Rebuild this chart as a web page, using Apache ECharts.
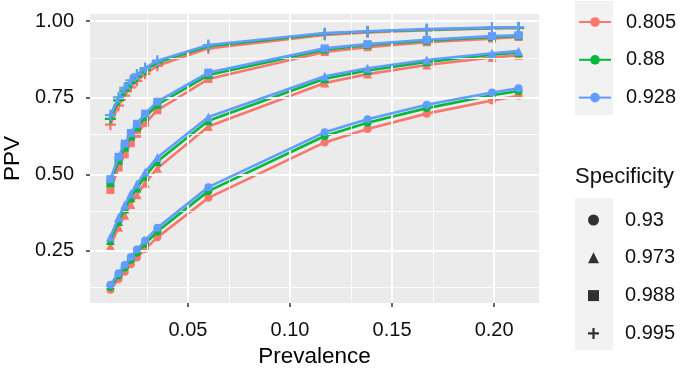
<!DOCTYPE html>
<html>
<head>
<meta charset="utf-8">
<title>PPV vs Prevalence</title>
<script src="https://cdn.jsdelivr.net/npm/echarts@6/dist/echarts.min.js"></script>
<style>
    html, body { margin: 0; padding: 0; background: #fff; }
    #main { width: 685px; height: 373px; }
</style>
</head>
<body>
<div id="main"></div>
<script>
// x values (prevalence)
var prevalence = [0.012, 0.016, 0.019, 0.022, 0.025, 0.029, 0.035, 0.06, 0.117, 0.138, 0.167, 0.199, 0.212];

// colour groups (sensitivity) and shape groups (specificity)
var sensitivity = ['0.805', '0.88', '0.928'];
var specificity = ['0.93', '0.973', '0.988', '0.995'];

// PPV, one array per sensitivity / specificity pair
var ppv_805_930 = [0.123, 0.158, 0.182, 0.206, 0.228, 0.256, 0.294, 0.423, 0.604, 0.648, 0.698, 0.741, 0.756];
var ppv_805_973 = [0.266, 0.327, 0.366, 0.401, 0.433, 0.471, 0.520, 0.656, 0.798, 0.827, 0.857, 0.881, 0.889];
var ppv_805_988 = [0.449, 0.522, 0.565, 0.601, 0.632, 0.667, 0.709, 0.811, 0.899, 0.915, 0.931, 0.943, 0.948];
var ppv_805_995 = [0.662, 0.724, 0.757, 0.784, 0.805, 0.828, 0.854, 0.911, 0.955, 0.963, 0.970, 0.976, 0.977];

var ppv_880_930 = [0.132, 0.170, 0.196, 0.221, 0.244, 0.273, 0.313, 0.445, 0.625, 0.668, 0.716, 0.758, 0.772];
var ppv_880_973 = [0.284, 0.346, 0.387, 0.423, 0.455, 0.493, 0.542, 0.675, 0.812, 0.839, 0.867, 0.890, 0.898];
var ppv_880_988 = [0.471, 0.544, 0.587, 0.623, 0.653, 0.687, 0.727, 0.824, 0.907, 0.922, 0.936, 0.948, 0.952];
var ppv_880_995 = [0.681, 0.741, 0.773, 0.798, 0.819, 0.840, 0.865, 0.918, 0.959, 0.966, 0.972, 0.978, 0.979];

var ppv_928_930 = [0.139, 0.177, 0.204, 0.230, 0.254, 0.284, 0.325, 0.458, 0.637, 0.680, 0.727, 0.767, 0.781];
var ppv_928_973 = [0.295, 0.359, 0.400, 0.436, 0.468, 0.507, 0.555, 0.687, 0.820, 0.846, 0.873, 0.895, 0.902];
var ppv_928_988 = [0.484, 0.557, 0.600, 0.635, 0.665, 0.698, 0.737, 0.832, 0.911, 0.925, 0.939, 0.951, 0.954];
var ppv_928_995 = [0.693, 0.751, 0.782, 0.807, 0.826, 0.847, 0.871, 0.922, 0.961, 0.967, 0.974, 0.979, 0.980];

// tick labels
var xTicks = [0.05, 0.10, 0.15, 0.20];
var yTicks = [0.25, 0.50, 0.75, 1.00];
var xMinor = [0.025, 0.075, 0.125, 0.175];
var yMinor = [0.125, 0.375, 0.625, 0.875];

var ppvTable = [
    [ppv_805_930, ppv_805_973, ppv_805_988, ppv_805_995],
    [ppv_880_930, ppv_880_973, ppv_880_988, ppv_880_995],
    [ppv_928_930, ppv_928_973, ppv_928_988, ppv_928_995]
];

var colors = ['#F8766D', '#00BA38', '#619CFF'];
var plusPath = 'path://M0,4H10V6H0Z M4,0H6V10H4Z';
var shapes = ['circle', 'triangle', 'rect', plusPath];
var shapeSizes = [8, 9, 8, 11];
var legendShapeSizes = [9, 10, 8, 12];
var FONT = 'Liberation Sans, Arial, Helvetica, sans-serif';

function zip(xs, ys) {
    var out = [];
    for (var i = 0; i < xs.length; i++) {
        out.push([xs[i], ys[i]]);
    }
    return out;
}

function gridLines(values, axis, width) {
    return values.map(function (v) {
        var d = {lineStyle: {width: width}};
        d[axis] = v;
        return d;
    });
}

var series = [];

// panel grid lines (major + minor), drawn under the data
series.push({
    name: 'grid',
    type: 'line',
    data: [],
    z: 1,
    silent: true,
    markLine: {
        silent: true,
        symbol: ['none', 'none'],
        label: {show: false},
        animation: false,
        lineStyle: {color: '#FFFFFF', type: 'solid'},
        data: [].concat(
            gridLines(xMinor, 'xAxis', 0.9),
            gridLines(yMinor, 'yAxis', 0.9),
            gridLines(xTicks, 'xAxis', 2),
            gridLines(yTicks, 'yAxis', 2)
        )
    }
});

for (var i = 0; i < sensitivity.length; i++) {
    for (var j = 0; j < specificity.length; j++) {
        series.push({
            name: sensitivity[i],
            type: 'line',
            data: zip(prevalence, ppvTable[i][j]),
            symbol: shapes[j],
            symbolSize: shapeSizes[j],
            showSymbol: true,
            z: 3 + i,
            lineStyle: {width: 2.6, color: colors[i]},
            itemStyle: {color: colors[i]},
            animation: false
        });
    }
}

// empty series only for the shape legend
for (var j = 0; j < specificity.length; j++) {
    series.push({
        name: specificity[j],
        type: 'scatter',
        data: [],
        symbol: shapes[j],
        symbolSize: legendShapeSizes[j],
        itemStyle: {color: '#000000'}
    });
}

var chart = echarts.init(document.getElementById('main'), null, {renderer: 'canvas'});

var option = {
    animation: false,
    textStyle: {fontFamily: FONT},
    grid: {
        left: 90,
        right: 146,
        top: 14,
        bottom: 70,
        outerBoundsMode: 'none',
        containLabel: false,
        show: true,
        backgroundColor: '#EBEBEB',
        borderWidth: 0
    },
    title: [{
        text: 'Specificity',
        left: 575,
        top: 166,
        padding: 0,
        textStyle: {fontFamily: FONT, fontSize: 22, fontWeight: 'normal', color: '#111'}
    }],
    graphic: [
        {type: 'rect', left: 575, top: 1, z: 0, shape: {width: 38, height: 114}, style: {fill: '#F2F2F2'}},
        {type: 'rect', left: 575, top: 198, z: 0, shape: {width: 38, height: 152}, style: {fill: '#F2F2F2'}}
    ],
    legend: [{
        data: sensitivity,
        orient: 'vertical',
        left: 578,
        top: 12,
        padding: 0,
        itemWidth: 32,
        itemHeight: 12,
        itemGap: 17.8,
        selectedMode: false,
        z: 5,
        textStyle: {fontFamily: FONT, fontSize: 20, lineHeight: 20, color: '#111', padding: [0, 0, 0, 10]}
    }, {
        data: specificity.map(function (s, j) {
            return {name: s, icon: shapes[j], itemStyle: {color: '#000'}};
        }),
        orient: 'vertical',
        left: 588,
        top: 210,
        padding: 0,
        itemWidth: 11,
        itemHeight: 11,
        itemGap: 17.8,
        selectedMode: false,
        z: 5,
        textStyle: {fontFamily: FONT, fontSize: 20, lineHeight: 20, color: '#111', padding: [0, 0, 0, 21]}
    }],
    xAxis: {
        type: 'value',
        min: 0.002,
        max: 0.222,
        name: 'Prevalence',
        nameLocation: 'middle',
        nameGap: 42,
        nameTextStyle: {fontFamily: FONT, fontSize: 22.5, color: '#000'},
        axisLine: {show: false},
        axisTick: {show: true, length: 4, customValues: xTicks, lineStyle: {color: '#333', width: 1.5}},
        axisLabel: {
            customValues: xTicks,
            margin: 17,
            fontSize: 20,
            color: '#111',
            formatter: function (v) { return v.toFixed(2); }
        },
        splitLine: {show: false}
    },
    yAxis: {
        type: 'value',
        min: 0.0797,
        max: 1.0233,
        name: 'PPV',
        nameLocation: 'middle',
        nameGap: 66,
        nameTextStyle: {fontFamily: FONT, fontSize: 22.5, color: '#000'},
        axisLine: {show: false},
        axisTick: {show: true, length: 4, customValues: yTicks, lineStyle: {color: '#333', width: 1.5}},
        axisLabel: {
            customValues: yTicks,
            margin: 16,
            fontSize: 20,
            color: '#111',
            formatter: function (v) { return v.toFixed(2); }
        },
        splitLine: {show: false}
    },
    series: series
};

chart.setOption(option);
</script>
</body>
</html>
